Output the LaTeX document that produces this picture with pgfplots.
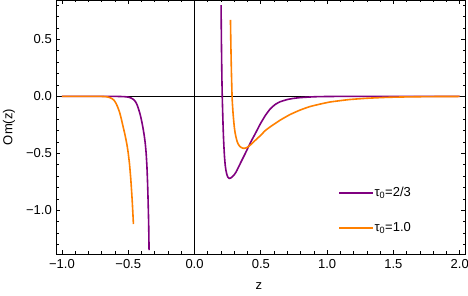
\documentclass[border=0pt]{standalone}
\usepackage{fontspec}
\setmainfont{Liberation Sans}
\usepackage{pgfplots}
\pgfplotsset{compat=1.18}
\definecolor{mpurple}{rgb}{0.5,0,0.5}
\definecolor{morange}{rgb}{1,0.5,0}
\begin{document}
\fontsize{13}{15}\selectfont
\begin{tikzpicture}
\begin{axis}[
  name=ax,
  scale only axis,
  width=409pt, height=254pt,
  xmin=-1.045, xmax=2.04,
  ymin=-1.383, ymax=0.845,
  axis line style={line width=0.8pt},
  tick align=inside,
  major tick length=4pt, minor tick length=2.5pt,
  tick style={line width=0.7pt, black},
  xtick={-1,-0.5,0,0.5,1,1.5,2},
  xticklabels={−1.0,−0.5,0.0,0.5,1.0,1.5,2.0},
  minor xtick={-1,-0.9,-0.8,-0.7,-0.6,-0.4,-0.3,-0.2,-0.1,0.1,0.2,0.3,0.4,0.6,0.7,0.8,0.9,1.1,1.2,1.3,1.4,1.6,1.7,1.8,1.9},
  ytick={-1,-0.5,0,0.5},
  yticklabels={−1.0,−0.5,0.0,0.5},
  minor ytick={-1.3,-1.2,-1.1,-0.9,-0.8,-0.7,-0.6,-0.4,-0.3,-0.2,-0.1,0.1,0.2,0.3,0.4,0.6,0.7,0.8},
  xticklabel style={anchor=north, inner sep=0pt, yshift=-5.5pt},
  yticklabel style={anchor=east, inner sep=0pt, xshift=-4pt},
  xlabel={z},
  ylabel={Om(z)},
  xlabel style={at={(axis description cs:0.496,-0.126)}, anchor=center, inner sep=0pt},
  ylabel style={at={(axis description cs:-0.115,0.5)}, anchor=center, inner sep=0pt},
  legend style={draw=none, fill=none, at={(axis description cs:0.690,0.173)}, anchor=west,
    row sep=22pt, inner sep=0pt, nodes={inner sep=1pt}},
  legend cell align=left,
  legend image post style={xscale=1.94},
  /tikz/every even column/.append style={column sep=13pt},
]
\addlegendimage{mpurple, line width=2pt}
\addlegendentry{τ\textsubscript{0}=2/3}
\addlegendimage{morange, line width=2pt}
\addlegendentry{τ\textsubscript{0}=1.0}

\addplot[black, line width=0.7pt, forget plot] coordinates {(-1.045,0) (2.04,0)};
\addplot[black, line width=0.7pt, forget plot] coordinates {(0,-1.383) (0,0.845)};

% tau0 = 2/3, left branch
\addplot[mpurple, line width=1.6pt, smooth, tension=0.3, forget plot] coordinates {
(-1.0,0) (-0.7,0) (-0.58,-0.001) (-0.53,-0.003) (-0.5,-0.007) (-0.48,-0.014)
(-0.465,-0.024) (-0.452,-0.037) (-0.44,-0.058) (-0.43,-0.085) (-0.42,-0.12)
(-0.41,-0.16) (-0.4,-0.21) (-0.39,-0.27) (-0.38,-0.34) (-0.372,-0.41)
(-0.365,-0.5) (-0.359,-0.62) (-0.354,-0.77) (-0.35,-0.93) (-0.346,-1.12)
(-0.343,-1.35)};
% tau0 = 2/3, right branch
\addplot[mpurple, line width=1.6pt, smooth, tension=0.3, forget plot] coordinates {
(0.200,0.80) (0.203,0.45) (0.206,0.18) (0.209,0.0) (0.212,-0.13) (0.215,-0.25)
(0.218,-0.35) (0.222,-0.45) (0.226,-0.53) (0.231,-0.60) (0.237,-0.65)
(0.244,-0.687) (0.252,-0.71) (0.262,-0.72) (0.272,-0.717) (0.285,-0.705)
(0.3,-0.687) (0.315,-0.66) (0.33,-0.625) (0.355,-0.565) (0.383,-0.50)
(0.42,-0.41) (0.459,-0.325) (0.496,-0.242) (0.534,-0.168) (0.571,-0.11)
(0.61,-0.07) (0.647,-0.047) (0.70,-0.028) (0.747,-0.018) (0.80,-0.011)
(0.9,-0.004) (1.0,-0.0015) (1.2,-0.0002) (1.5,0) (2.0,0)};

% tau0 = 1.0, left branch
\addplot[morange, line width=1.6pt, smooth, tension=0.3, forget plot] coordinates {
(-1.0,0) (-0.8,0) (-0.7,-0.001) (-0.67,-0.003) (-0.65,-0.007) (-0.635,-0.013)
(-0.62,-0.022) (-0.607,-0.035) (-0.594,-0.058) (-0.583,-0.085) (-0.573,-0.115)
(-0.563,-0.15) (-0.554,-0.19) (-0.545,-0.235) (-0.536,-0.28) (-0.527,-0.325)
(-0.518,-0.375) (-0.509,-0.43) (-0.5,-0.5) (-0.49,-0.6) (-0.48,-0.74)
(-0.47,-0.92) (-0.461,-1.12)};
% tau0 = 1.0, right branch
\addplot[morange, line width=1.6pt, smooth, tension=0.3, forget plot] coordinates {
(0.271,0.67) (0.274,0.45) (0.278,0.22) (0.283,0.0) (0.286,-0.07) (0.29,-0.14)
(0.295,-0.21) (0.30,-0.27) (0.306,-0.32) (0.313,-0.36) (0.321,-0.395)
(0.33,-0.42) (0.34,-0.437) (0.352,-0.449) (0.365,-0.455) (0.378,-0.456)
(0.39,-0.452) (0.41,-0.438) (0.435,-0.412) (0.459,-0.385) (0.496,-0.345)
(0.534,-0.30) (0.58,-0.26) (0.647,-0.208) (0.72,-0.16) (0.797,-0.12)
(0.87,-0.09) (0.947,-0.068) (1.02,-0.05) (1.098,-0.038) (1.17,-0.028)
(1.3,-0.017) (1.45,-0.009) (1.6,-0.005) (1.8,-0.002) (2.0,-0.001)};
\end{axis}
\pgfresetboundingbox
\path (ax.south west) ++(-56pt,-42pt) rectangle ++(468pt,296pt);
\end{tikzpicture}
\end{document}
